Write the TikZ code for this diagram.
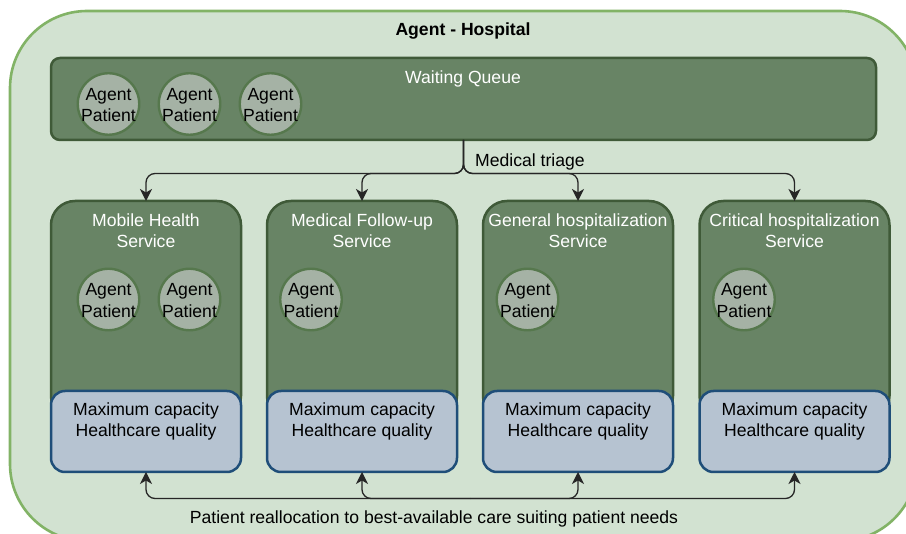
\documentclass[tikz,border=0pt]{standalone}
\usepackage{fontspec}
\setmainfont{Liberation Sans}
\usetikzlibrary{arrows.meta,positioning}
\definecolor{outerfill}{HTML}{D2E2D1}
\definecolor{outerline}{HTML}{82B366}
\definecolor{svcfill}{HTML}{688465}
\definecolor{svcline}{HTML}{3F5A38}
\definecolor{agfill}{HTML}{A5B2A5}
\definecolor{agline}{HTML}{56784D}
\definecolor{capfill}{HTML}{B6C3D1}
\definecolor{capline}{HTML}{1F4E79}
\tikzset{
  x=1pt,y=-1pt,
  txt/.style={font=\fontsize{17.6}{21.5}\selectfont,align=center,inner sep=0pt},
  agent/.style={circle,draw=agline,line width=2.4pt,fill=agfill,minimum size=61.5pt,inner sep=0pt,
    label={[txt,yshift=-1pt]center:{Agent\\Patient}}},
  svcbox/.style={draw=svcline,line width=2.5pt,fill=svcfill,rounded corners=24pt},
  capbox/.style={draw=capline,line width=2.5pt,fill=capfill,rounded corners=14pt},
  conn/.style={line width=1.3pt,draw=black!85,rounded corners=9pt,-{Stealth[length=12pt,width=12pt,inset=3.5pt]}},
}
\begin{document}
\begin{tikzpicture}
\useasboundingbox (0,0) rectangle (906,534);
\begin{scope}
\clip (0,0) rectangle (906,534);
\draw[draw=outerline,line width=2.6pt,fill=outerfill,rounded corners=77pt] (10,11) rectangle (917,541);
\end{scope}
\node[txt,font=\fontsize{17.6}{21.5}\selectfont\bfseries] (title) at (463,31) {Agent - Hospital};
% waiting queue
\draw[draw=svcline,line width=2.5pt,fill=svcfill,rounded corners=9pt] (51,58) rectangle (876,140);
\coordinate (wqb) at (463.5,140);
\node[txt,text=white] (wq) at (463,79) {Waiting Queue};
\foreach \n/\x in {a/108.5,b/189.5,c/270.5}{
  \node[agent] (q\n) at (\x,104) {};
}
% services
\foreach \n/\x/\l in {
  s1/146/{Mobile Health\\Service},
  s2/362/{Medical Follow-up\\Service},
  s3/578/{General hospitalization\\Service},
  s4/794.5/{Critical hospitalization\\Service}}{
  \draw[svcbox] (\x-95,201) rectangle (\x+95,420);
  \coordinate (\n t) at (\x,201);
  \node[txt,text=white] (\n l) at (\x,230.5) {\l};
  \draw[capbox] (\x-95,391) rectangle (\x+95,472);
  \coordinate (\n b) at (\x,472);
  \node[txt] (\n c) at (\x,421.5) {Maximum capacity\\Healthcare quality};
}
\node[agent] (m1) at (108.5,299.5) {};
\node[agent] (m2) at (189.5,299.5) {};
\node[agent] (f1) at (311,299.5) {};
\node[agent] (g1) at (527.5,299.5) {};
\node[agent] (c1) at (744,299.5) {};
% triage arrows
\foreach \n in {s1,s2,s3,s4}{
  \draw[conn] (wqb) |- (463.5,173.5) -| (\n t);
}
\node[txt,anchor=west] (tri) at (475,162) {Medical triage};
% reallocation arrows
\coordinate (rb) at (470,498.5);
\foreach \n in {s1,s2,s3,s4}{
  \draw[conn] (rb) -| (\n b);
}
\node[txt] (re) at (434,519) {Patient reallocation to best-available care suiting patient needs};
\end{tikzpicture}
\end{document}
